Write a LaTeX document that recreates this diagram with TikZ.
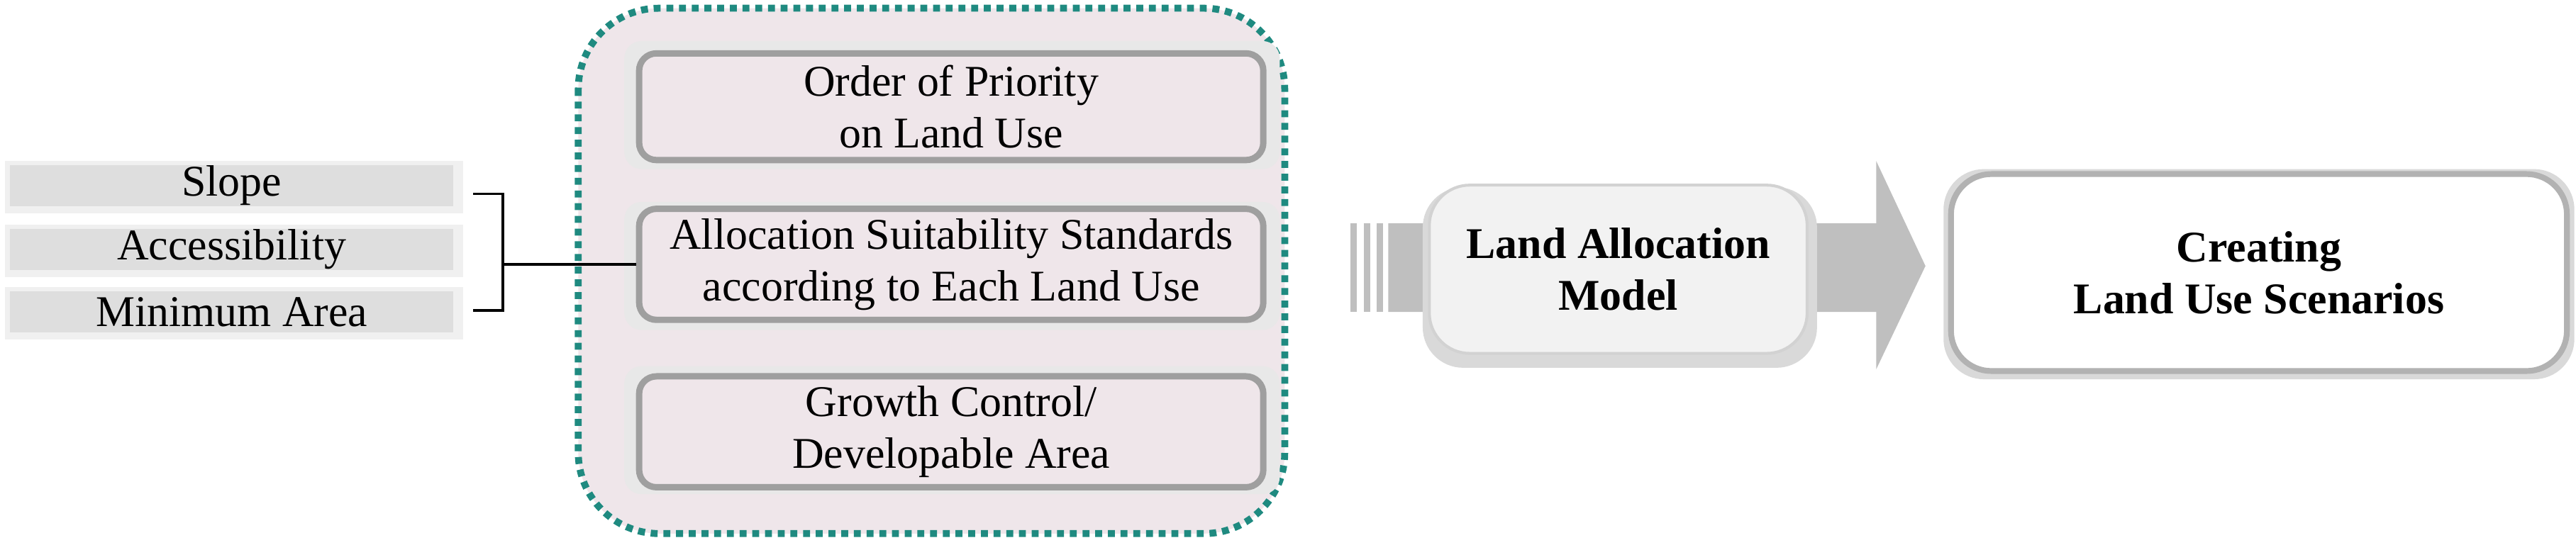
\documentclass[tikz,border=0pt]{standalone}
\usepackage{fontspec}
\setmainfont{Liberation Serif}
\usetikzlibrary{shapes.arrows}
\definecolor{teal1}{HTML}{1F8A80}
\definecolor{pinkf}{HTML}{EFE6EA}
\definecolor{lgray}{HTML}{DEDEDE}
\definecolor{agray}{HTML}{BFBFBF}
\tikzset{
  txt/.style={font=\fontsize{15.2}{18}\selectfont, align=center},
  inbox/.style={draw=gray!75, line width=2.2pt, fill=pinkf, rounded corners=6pt, minimum width=7.6cm, minimum height=1.3cm, txt},
  factor/.style={fill=lgray, minimum width=5.4cm, minimum height=0.5cm, txt, inner sep=0pt},
  shad/.style={fill=gray!18, rounded corners=6pt},
}
\begin{document}
\begin{tikzpicture}[x=0.02cm,y=-0.02cm]
\useasboundingbox (0,0) rectangle (1568,335);
% container
\draw[teal1, line width=2.4pt, dotted, fill=pinkf, rounded corners=28pt] (352,5) rectangle (782,325);
% inner boxes with shadow
\foreach \yy in {30,128,228}{
  \fill[shad] (380,\yy-5) rectangle (779,\yy+73);
}
\node[inbox] (p1) at (579,65) {Order of Priority\\on Land Use};
\node[inbox] (p2) at (579,161) {Allocation Suitability Standards\\according to Each Land Use};
\node[inbox] (p3) at (579,263) {Growth Control/\\Developable Area};
% factors
\foreach \yy in {113,152,190}{ \fill[gray!12] (3,\yy-15) rectangle (282,\yy+17); }
\node[factor] (f1) at (141,113) {Slope};
\node[factor] (f2) at (141,152) {Accessibility};
\node[factor] (f3) at (141,190) {Minimum Area};
\coordinate (b1) at (306,118);
\coordinate (b2) at (306,189);
\coordinate (bm) at (306,161);
\draw[line width=0.9pt] (288,118) -- (b1) -- (b2) -- (288,189);
\draw[line width=0.9pt] (bm) -- (p2.west);
% big arrow
\fill[agray] (845,136) -- (1142,136) -- (1142,98) -- (1172,162) -- (1142,225) -- (1142,190) -- (845,190) -- cycle;
\foreach \xx in {822,830,838}{ \fill[agray] (\xx,136) rectangle (\xx+4,190); }
% LAM box
\fill[gray!30, rounded corners=14pt] (866,114) rectangle (1106,224);
\node[draw=gray!35, line width=1pt, fill=gray!10, rounded corners=14pt, minimum width=4.6cm, minimum height=2.05cm, txt, font=\fontsize{15.2}{18}\selectfont\bfseries] (lam) at (985,164) {Land Allocation\\Model};
% Creating box
\fill[gray!30, rounded corners=14pt] (1183,103) rectangle (1567,231);
\node[draw=gray!60, line width=2pt, fill=white, rounded corners=14pt, minimum width=7.5cm, minimum height=2.4cm, txt, font=\fontsize{15.2}{18}\selectfont\bfseries] (cr) at (1375,166) {Creating\\Land Use Scenarios};
\end{tikzpicture}
\end{document}
